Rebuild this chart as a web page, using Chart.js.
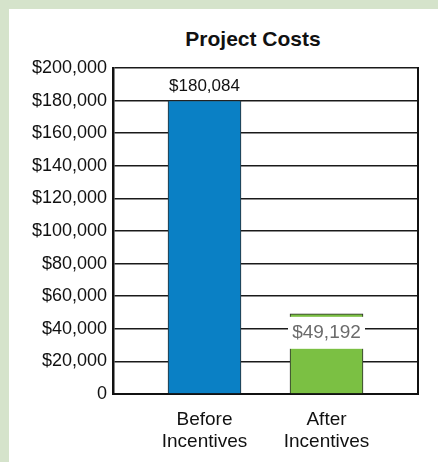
<!DOCTYPE html>
<html>
<head>
<meta charset="utf-8">
<script src="https://cdn.jsdelivr.net/npm/chart.js@4.4.1/dist/chart.umd.min.js"></script>
<style>
    html, body { margin: 0; padding: 0; }
    body { width: 438px; height: 462px; background: #d5e3cb; position: relative; overflow: hidden; }
    .panel { position: absolute; left: 9px; top: 9px; width: 429px; height: 453px; background: #fff; }
    .title {
        position: absolute; left: 0; top: 0; width: 488px; text-align: center;
        font: bold 21px "Liberation Sans", Arial, sans-serif; color: #111; line-height: 24px; padding-top: 18px;
    }
    .chart-box { position: absolute; left: 0; top: 0; width: 429px; height: 453px; }
</style>
</head>
<body>
<div class="panel">
    <div class="title">Project Costs</div>
    <div class="chart-box"><canvas id="costChart"></canvas></div>
</div>
<script>
const categories = [['Before', 'Incentives'], ['After', 'Incentives']];
const costs = [180084, 49192];
const barColors = ['#0a80c5', '#7bc043'];
const yTicks = [0, 20000, 40000, 60000, 80000, 100000, 120000, 140000, 160000, 180000, 200000];

function money(v) {
    return v === 0 ? '0' : '$' + v.toLocaleString('en-US');
}

// value labels: first one above the bar, second one inside on a white box
const valueLabels = {
    id: 'valueLabels',
    afterDatasetsDraw(chart) {
        const ctx = chart.ctx;
        const bars = chart.getDatasetMeta(0).data;
        ctx.save();
        ctx.textAlign = 'center';
        ctx.textBaseline = 'middle';

        const b0 = bars[0];
        ctx.font = '17px "Liberation Sans", Arial, sans-serif';
        ctx.fillStyle = '#111';
        ctx.fillText(money(costs[0]), b0.x, b0.y - 14);

        const b1 = bars[1];
        const half = b1.width / 2 + 2;
        ctx.fillStyle = '#fff';
        ctx.fillRect(b1.x - half, b1.y + 3, half * 2, 32);
        ctx.font = '19px "Liberation Sans", Arial, sans-serif';
        ctx.fillStyle = '#6b6b6b';
        ctx.fillText(money(costs[1]), b1.x, b1.y + 19);
        ctx.restore();
    }
};

Chart.defaults.font.family = '"Liberation Sans", Arial, sans-serif';
Chart.defaults.color = '#111';

new Chart(document.getElementById('costChart'), {
    type: 'bar',
    data: {
        datasets: [{
            data: costs.map((v, i) => ({ x: i, y: v })),
            backgroundColor: barColors,
            borderColor: '#2a2a2a',
            borderWidth: 1,
            barThickness: 73
        }]
    },
    options: {
        responsive: true,
        maintainAspectRatio: false,
        animation: false,
        layout: { padding: { top: 59, right: 20, bottom: 0, left: 0 } },
        plugins: {
            legend: { display: false },
            tooltip: { enabled: false }
        },
        scales: {
            x: {
                type: 'linear',
                offset: false,
                min: -0.75,
                max: 1.75,
                afterBuildTicks: axis => { axis.ticks = categories.map((c, i) => ({ value: i })); },
                afterFit: axis => { axis.height = 68; },
                grid: { display: false, drawTicks: false },
                border: { display: true, color: '#111', width: 2 },
                ticks: {
                    padding: 14,
                    font: { size: 19, lineHeight: 1.2 },
                    color: '#111',
                    maxRotation: 0,
                    autoSkip: false,
                    callback: v => categories[v]
                }
            },
            y: {
                min: 0,
                max: 200000,
                afterBuildTicks: axis => { axis.ticks = yTicks.map(v => ({ value: v })); },
                afterFit: axis => { axis.width = 104; },
                grid: { color: '#1a1a1a', lineWidth: 1.5, drawTicks: false },
                border: { display: true, color: '#111', width: 2.5 },
                ticks: {
                    padding: 6,
                    font: { size: 18 },
                    color: '#111',
                    callback: v => money(v)
                }
            },
            y2: {
                position: 'right',
                min: 0,
                max: 200000,
                afterFit: axis => { axis.width = 0; },
                grid: { display: false, drawTicks: false },
                border: { display: true, color: '#111', width: 2 },
                ticks: { display: false }
            }
        }
    },
    plugins: [valueLabels]
});
</script>
</body>
</html>
